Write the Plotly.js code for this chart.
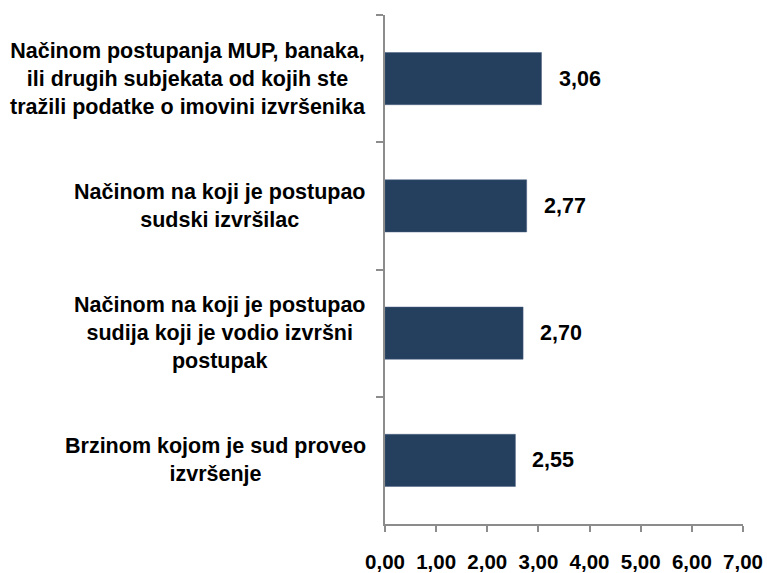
<!DOCTYPE html>
<html>
<head>
<meta charset="utf-8">
<script src="https://cdn.plot.ly/plotly-3.0.1.min.js"></script>
<style>
  html, body { margin: 0; padding: 0; background: #ffffff; }
  #chart { width: 767px; height: 573px; }
</style>
</head>
<body>
<div id="chart"></div>
<script>
// Categories listed top to bottom
const categories = [
  "Načinom postupanja MUP, banaka,<br>ili drugih subjekata od kojih ste<br>tražili podatke o imovini izvršenika",
  "Načinom na koji je postupao<br>sudski izvršilac",
  "Načinom na koji je postupao<br>sudija koji je vodio izvršni<br>postupak",
  "Brzinom kojom je sud proveo<br>izvršenje"
];
const values = [3.06, 2.77, 2.70, 2.55];
const xTickValues = [0, 1, 2, 3, 4, 5, 6, 7];

const FONT = "Liberation Sans, Arial, sans-serif";
const BAR_COLOR = "#253f5f";
const AXIS_COLOR = "#8c8c8c";

const trace = {
  type: "bar",
  orientation: "h",
  x: values,
  y: categories,
  marker: { color: BAR_COLOR, line: { color: "#4a6080", width: 0.5 } },
  hoverinfo: "skip"
};

const annotations = [];
categories.forEach((c, i) => {
  annotations.push({
    xref: "paper", yref: "y",
    x: 0, y: c,
    xanchor: "right", yanchor: "middle",
    xshift: -17,
    align: "center",
    text: "<b>" + c + "</b>",
    showarrow: false,
    font: { family: FONT, size: 21.5, color: "#000000" }
  });
  annotations.push({
    xref: "x", yref: "y",
    x: values[i], y: c,
    xanchor: "left", yanchor: "middle",
    xshift: 15,
    text: "<b>" + values[i].toFixed(2).replace(".", ",") + "</b>",
    showarrow: false,
    font: { family: FONT, size: 21.5, color: "#000000" }
  });
});

const layout = {
  width: 767,
  height: 573,
  margin: { l: 385, r: 24, t: 15, b: 49, pad: 0 },
  paper_bgcolor: "#ffffff",
  plot_bgcolor: "#ffffff",
  separators: ",.",
  showlegend: false,
  bargap: 0.59,
  font: { family: FONT, color: "#000000" },
  xaxis: {
    range: [0, 7],
    tickvals: xTickValues,
    tickformat: ".2f",
    showgrid: false,
    zeroline: false,
    showline: true,
    linecolor: AXIS_COLOR,
    linewidth: 2,
    ticks: "outside",
    ticklen: 6,
    tickwidth: 2,
    tickcolor: AXIS_COLOR,
    ticklabelstandoff: 12,
    tickfont: { family: FONT, size: 20.5, color: "#000000", weight: "bold" },
    automargin: false,
    fixedrange: true
  },
  yaxis: {
    type: "category",
    autorange: "reversed",
    showticklabels: false,
    showgrid: false,
    zeroline: false,
    showline: true,
    linecolor: AXIS_COLOR,
    linewidth: 2,
    ticks: "outside",
    tickson: "boundaries",
    ticklen: 7,
    tickwidth: 2,
    tickcolor: AXIS_COLOR,
    automargin: false,
    fixedrange: true
  },
  annotations: annotations
};

Plotly.newPlot("chart", [trace], layout, { displayModeBar: false, staticPlot: true });
</script>
</body>
</html>
